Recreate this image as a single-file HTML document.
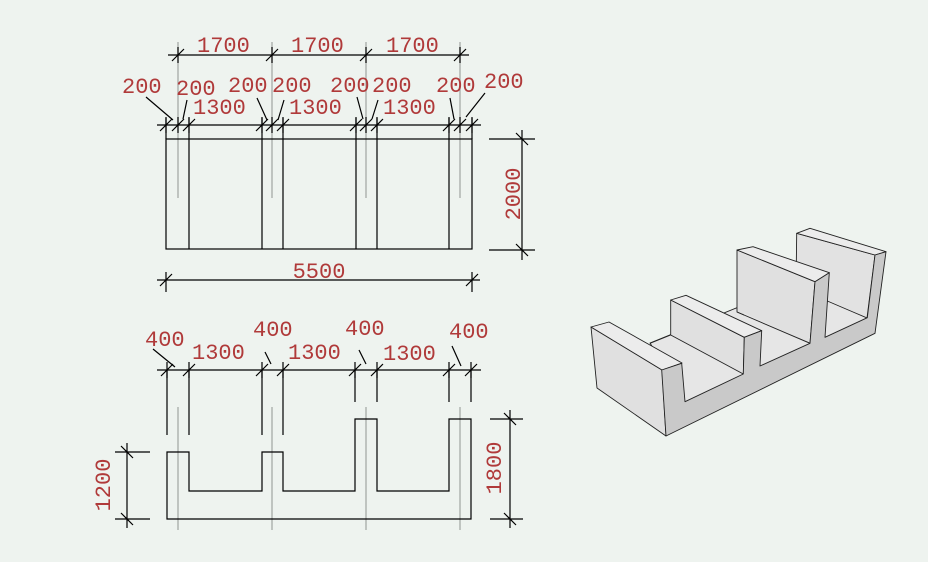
<!DOCTYPE html>
<html><head><meta charset="utf-8"><style>
html,body{margin:0;padding:0;background:#eef3ef;}
svg{display:block}
text{font-family:"Liberation Mono",monospace;font-size:22px;fill:#b03a3a;}
</style></head><body>
<svg width="928" height="562" viewBox="0 0 928 562" xmlns="http://www.w3.org/2000/svg">
<rect width="928" height="562" fill="#eef3ef"/>
<!-- gray center lines -->
<g stroke="#a0a4a0" stroke-width="1.2">
<line x1="178" y1="42" x2="178" y2="198"/><line x1="272" y1="42" x2="272" y2="198"/>
<line x1="366" y1="42" x2="366" y2="198"/><line x1="460" y1="42" x2="460" y2="198"/>
<line x1="178" y1="407" x2="178" y2="530"/><line x1="272" y1="407" x2="272" y2="530"/>
<line x1="366" y1="407" x2="366" y2="530"/><line x1="460" y1="407" x2="460" y2="530"/>
</g>
<g stroke="#000" stroke-width="1.2" fill="none">
<!-- top view -->
<rect x="166" y="139" width="306" height="110"/>
<path d="M189 118V249M262 118V249M283 118V249M356 118V249M377 118V249M449 118V249M166 118V139M472 118V139"/>
<!-- 1700 line -->
<path d="M168 55H469"/>
<path d="M178 47V63M272 47V63M366 47V63M460 47V63"/>
<path d="M172 61L184 49M266 61L278 49M360 61L372 49M454 61L466 49"/>
<!-- 200/1300 line -->
<path d="M157 125H481"/>
<path d="M166 117V133M178 117V133M189 117V133M262 117V133M272 117V133M283 117V133M356 117V133M366 117V133M377 117V133M449 117V133M460 117V133M472 117V133"/>
<path d="M160 131L172 119M172 131L184 119M183 131L195 119M256 131L268 119M266 131L278 119M277 131L289 119M350 131L362 119M360 131L372 119M371 131L383 119M443 131L455 119M454 131L466 119M466 131L478 119"/>
<!-- leaders -->
<path d="M146 97L173 120M187 100L183 119M257 98L267 120M284 100L278 120M357 97L363 119M378 100L372 119M450 98L454 119M485 93L466 117"/>
<!-- 5500 -->
<path d="M157 280H480M166 272V292M472 272V292M160 286L172 274M466 286L478 274"/>
<!-- 2000 -->
<path d="M522 130V260M489 139H535M489 250H535M516 133L528 145M516 244L528 256"/>
<!-- bottom view profile -->
<path d="M167 519V452H189V491H262V452H283V491H355V419H377V491H449V419H471V519Z"/>
<path d="M167 370V435M189 370V435M262 370V435M283 370V435M355 370V402M377 370V402M449 370V402M471 370V402"/>
<path d="M157 370H481"/>
<path d="M167 362V378M189 362V378M262 362V378M283 362V378M355 362V378M377 362V378M449 362V378M471 362V378"/>
<path d="M161 376L173 364M183 376L195 364M256 376L268 364M277 376L289 364M349 376L361 364M371 376L383 364M443 376L455 364M465 376L477 364"/>
<path d="M153 349L175 367M265 352L271 364M359 350L366 364M452 346L461 366"/>
<!-- 1200 -->
<path d="M127 443V528M115 452H150M115 519H150M121 446L133 458M121 513L133 525"/>
<!-- 1800 -->
<path d="M510 410V528M490 419H523M490 519H523M504 413L516 425M504 513L516 525"/>
</g>
<!-- labels -->
<text x="197" y="52">1700</text><text x="291" y="52">1700</text><text x="386" y="52">1700</text>
<text x="122" y="93">200</text><text x="176" y="95">200</text><text x="228" y="92">200</text><text x="272" y="92">200</text>
<text x="330" y="92">200</text><text x="372" y="92">200</text><text x="436" y="92">200</text><text x="484" y="88">200</text>
<text x="193" y="114">1300</text><text x="289" y="114">1300</text><text x="383" y="114">1300</text>
<text x="319" y="278" text-anchor="middle">5500</text>
<text transform="translate(520,194) rotate(-90)" text-anchor="middle">2000</text>
<text x="145" y="346">400</text><text x="253" y="336">400</text><text x="345" y="335">400</text><text x="449" y="338">400</text>
<text x="192" y="359">1300</text><text x="288" y="359">1300</text><text x="383" y="360">1300</text>
<text transform="translate(110,485) rotate(-90)" text-anchor="middle">1200</text>
<text transform="translate(501,468) rotate(-90)" text-anchor="middle">1800</text>
<!-- 3D view -->
<g stroke="#222" stroke-width="0.9" stroke-linejoin="round">
<polygon points="650,343 830,270 867,318 685,402" fill="#e6e6e6"/>
<!-- wall4 -->
<polygon points="796.7,233.3 875,255 867,318 796,288" fill="#e2e2e2"/>
<polygon points="796.7,233.3 810,228.3 886,251.7 875,255" fill="#ececec"/>
<!-- floor between 3 and 4 -->
<polygon points="815,281.7 829,300 867,318 825,337" fill="#e6e6e6" stroke="none"/>
<line x1="825" y1="300" x2="867" y2="318"/>
<!-- wall3 -->
<polygon points="737,250 815,281.7 810,343.3 737,312" fill="#e0e0e0"/>
<polygon points="737,250 753,246.7 829.3,272.7 815,281.7" fill="#ececec"/>
<polygon points="744,313 810,343.3 761,366 744,358" fill="#e6e6e6" stroke="none"/>
<line x1="737" y1="312" x2="810" y2="343.3"/>
<!-- wall2 -->
<polygon points="670.7,300 744.3,337.3 743.3,374 670.7,335" fill="#e0e0e0"/>
<polygon points="670.7,300 686,295.3 761.7,330.7 744.3,337.3" fill="#ececec"/>
<line x1="650" y1="343.3" x2="670.7" y2="335"/>
<!-- wall1 -->
<polygon points="591,327 662,370 666,436 597,388" fill="#e0e0e0"/>
<polygon points="591,327 609,322 682,363 662,370" fill="#ececec"/>
<!-- dark end face -->
<polygon points="661.7,370 681.7,363.3 685,401.7 743.3,374 744.3,337.3 761.7,330.7 760,366 810,343.3 815,281.7 829.3,272.7 825,337.3 867.3,317.7 875,255 886,251.7 875,333.3 666,436" fill="#c9c9c9"/>
</g>
</svg>
</body></html>
